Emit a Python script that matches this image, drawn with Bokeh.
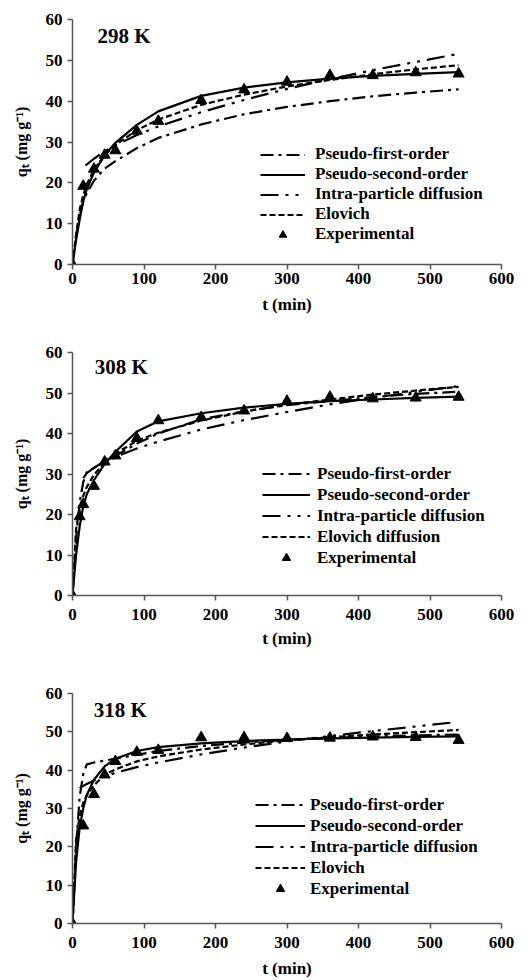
from bokeh.plotting import figure
from bokeh.models import Range1d, Legend, LegendItem, Label, FixedTicker
from bokeh.layouts import column
from bokeh.embed import file_html
from bokeh.resources import INLINE

# ---------------- data ----------------
x_ticks = [0, 100, 200, 300, 400, 500, 600]
y_ticks = [0, 10, 20, 30, 40, 50, 60]

# 298 K
t_exp_298 = [0, 15, 30, 45, 60, 90, 120, 180, 240, 300, 360, 420, 480, 540]
q_exp_298 = [0, 19.2, 23.4, 26.8, 27.9, 32.7, 35.1, 40.2, 42.8, 44.7, 46.3, 46.3, 47.0, 46.7]
t_fit_298 = [0, 5, 10, 15, 20, 30, 45, 60, 90, 120, 180, 240, 300, 360, 420, 480, 540]
pfo_298 = [0, 7, 12, 15.5, 17.5, 20.5, 23.5, 25.3, 28.5, 31, 34.3, 36.8, 38.6, 40, 41.2, 42.1, 42.9]
pso_298 = [0, 6, 11, 15.5, 18.5, 22.5, 26.8, 29.8, 34.2, 37.5, 41.3, 43.3, 44.6, 45.5, 46.2, 46.7, 47.1]
elo_298 = [0, 7.3, 13.4, 17, 19.6, 23.2, 26.8, 29.3, 32.9, 35.5, 39.1, 41.6, 43.6, 45.2, 46.6, 47.8, 48.8]
t_ipd_298 = [18, 20, 30, 45, 60, 90, 120, 180, 240, 300, 360, 420, 480, 540]
ipd_298 = [24.3, 24.5, 25.9, 27.7, 29.2, 31.7, 33.8, 37.3, 40.3, 43, 45.4, 47.6, 49.6, 51.6]

# 308 K
t_exp_308 = [0, 10, 15, 30, 45, 60, 90, 120, 180, 240, 300, 360, 420, 480, 540]
q_exp_308 = [0, 19.5, 22.5, 27, 33, 34.5, 38.8, 43.2, 44, 45.6, 48, 49, 48.6, 48.8, 49]
t_fit_308 = [0, 5, 10, 15, 20, 30, 45, 60, 90, 120, 180, 240, 300, 360, 420, 480, 540]
pfo_308 = [0, 14, 23, 28, 30.5, 31.5, 33.2, 34.5, 37.5, 40, 43.5, 45.5, 47, 48, 49, 49.8, 50.3]
pso_308 = [0, 10, 17, 22, 25, 28.5, 32.5, 35.5, 40.5, 43, 45, 46.4, 47.3, 48, 48.4, 48.8, 49.1]
elo_308 = [0, 16.4, 21.6, 24.6, 26.8, 29.8, 32.8, 35, 38.2, 40.2, 43.2, 45.4, 47.1, 48.4, 49.6, 50.6, 51.5]
t_ipd_308 = [15, 20, 30, 45, 60, 90, 120, 180, 240, 300, 360, 420, 480, 540]
ipd_308 = [29, 30.2, 31.5, 33, 34.2, 36.3, 38, 41, 43.3, 45.3, 47.2, 48.8, 50.3, 51.7]

# 318 K
t_exp_318 = [0, 15, 30, 45, 60, 90, 120, 180, 240, 300, 360, 420, 480, 540]
q_exp_318 = [0, 25.5, 33.7, 38.8, 42.3, 44.7, 45.2, 48.5, 48.5, 48.3, 48.4, 48.7, 48.6, 47.8]
t_fit_318 = [0, 5, 10, 15, 20, 30, 45, 60, 90, 120, 180, 240, 300, 360, 420, 480, 540]
pfo_318 = [0, 20, 33, 39, 41.5, 42, 42.5, 43, 44, 45, 46.3, 47.2, 47.9, 48.4, 48.8, 49.1, 49.3]
pso_318 = [0, 16, 25, 30, 33.5, 37.5, 41, 43, 45, 46, 47, 47.6, 48, 48.3, 48.5, 48.7, 48.8]
elo_318 = [0, 22, 28, 31.5, 33.5, 36, 38.8, 40.2, 42.3, 43.6, 45.4, 46.7, 47.8, 48.6, 49.3, 49.9, 50.5]
t_ipd_318 = [10, 15, 20, 30, 45, 60, 90, 120, 180, 240, 300, 360, 420, 480, 530]
ipd_318 = [35.3, 35.9, 36.4, 37.3, 38.4, 39.3, 40.8, 42, 44.1, 45.9, 47.5, 48.9, 50.2, 51.4, 52.4]

legend_labels_a = ["Pseudo-first-order", "Pseudo-second-order", "Intra-particle diffusion",
                   "Elovich", "Experimental"]
legend_labels_b = ["Pseudo-first-order", "Pseudo-second-order", "Intra-particle diffusion",
                   "Elovich diffusion", "Experimental"]

FONT = "Liberation Serif"


def make_panel(title, t_fit, pfo, pso, elo, t_ipd, ipd, t_exp, q_exp, labels,
               height, b_left, b_right, b_top, b_bottom, x_std, x_lab_std,
               lg_x, lg_y, lg_gw, lg_gh, lg_std, title_x, title_y):
    p = figure(width=528, height=height, output_backend="svg", toolbar_location=None,
               x_range=Range1d(0, 600), y_range=Range1d(0, 60),
               min_border_left=b_left, min_border_right=b_right,
               min_border_top=b_top, min_border_bottom=b_bottom)
    p.outline_line_color = None
    p.grid.visible = False
    p.background_fill_color = "white"

    for ax in (p.xaxis[0], p.yaxis[0]):
        ax.axis_line_color = "#555555"
        ax.axis_line_width = 1.5
        ax.major_tick_line_color = "#555555"
        ax.major_tick_line_width = 1.5
        ax.major_tick_out = 5
        ax.major_tick_in = 0
        ax.minor_tick_line_color = None
        ax.major_label_text_font = FONT
        ax.major_label_text_font_style = "bold"
        ax.major_label_text_font_size = "17px"
        ax.major_label_text_color = "black"
        ax.axis_label_text_font = FONT
        ax.axis_label_text_font_style = "bold"
        ax.axis_label_text_color = "black"

    p.xaxis.ticker = FixedTicker(ticks=x_ticks)
    p.yaxis.ticker = FixedTicker(ticks=y_ticks)
    p.xaxis.axis_label = "t (min)"
    p.xaxis.axis_label_text_font_size = "17px"
    p.xaxis.major_label_standoff = x_std
    p.xaxis.axis_label_standoff = x_lab_std
    p.yaxis.axis_label = "qₜ (mg g⁻¹)"
    p.yaxis.axis_label_text_font_size = "16px"
    p.yaxis.major_label_standoff = 5
    p.yaxis.axis_label_standoff = 13

    r_pfo = p.line(t_fit, pfo, line_color="black", line_width=2.2, line_dash="13 5 3 5")
    r_pso = p.line(t_fit, pso, line_color="black", line_width=2.2)
    r_ipd = p.line(t_ipd, ipd, line_color="black", line_width=2.2, line_dash="18 7 3 7 3 7")
    r_elo = p.line(t_fit, elo, line_color="black", line_width=2.2, line_dash="6 3")
    r_exp = p.scatter(t_exp, q_exp, marker="triangle", size=11, fill_color="black",
                      line_color="black")

    items = [LegendItem(label=labels[0], renderers=[r_pfo]),
             LegendItem(label=labels[1], renderers=[r_pso]),
             LegendItem(label=labels[2], renderers=[r_ipd]),
             LegendItem(label=labels[3], renderers=[r_elo]),
             LegendItem(label=labels[4], renderers=[r_exp])]
    lg = Legend(items=items, location=(lg_x, lg_y), padding=0, margin=0, spacing=0,
                glyph_width=lg_gw, glyph_height=lg_gh, label_height=lg_gh,
                label_standoff=lg_std, label_text_font=FONT, label_text_font_style="bold",
                label_text_font_size="17px", label_text_color="black",
                background_fill_alpha=0, border_line_alpha=0)
    p.add_layout(lg)

    p.add_layout(Label(x=title_x, y=title_y, text=title, text_font=FONT,
                       text_font_style="bold", text_font_size="21px",
                       text_baseline="middle", text_color="black"))
    return p


p1 = make_panel("298 K", t_fit_298, pfo_298, pso_298, elo_298, t_ipd_298, ipd_298,
                t_exp_298, q_exp_298, legend_labels_a,
                height=323, b_left=69, b_right=22, b_top=19, b_bottom=59, x_std=3, x_lab_std=8,
                lg_x=188, lg_y=20, lg_gw=45, lg_gh=19, lg_std=10,
                title_x=35, title_y=56)
p2 = make_panel("308 K", t_fit_308, pfo_308, pso_308, elo_308, t_ipd_308, ipd_308,
                t_exp_308, q_exp_308, legend_labels_b,
                height=327, b_left=72, b_right=21, b_top=29, b_bottom=53, x_std=8, x_lab_std=6,
                lg_x=190, lg_y=27, lg_gw=48, lg_gh=21, lg_std=7,
                title_x=31, title_y=56.4)
p3 = make_panel("318 K", t_fit_318, pfo_318, pso_318, elo_318, t_ipd_318, ipd_318,
                t_exp_318, q_exp_318, legend_labels_a,
                height=330, b_left=69, b_right=27, b_top=43, b_bottom=55, x_std=8, x_lab_std=8,
                lg_x=183, lg_y=24, lg_gw=50, lg_gh=21, lg_std=5,
                title_x=29.6, title_y=55.6)

layout = column(p1, p2, p3, spacing=0)
open("out.html", "w").write(file_html(layout, INLINE))
